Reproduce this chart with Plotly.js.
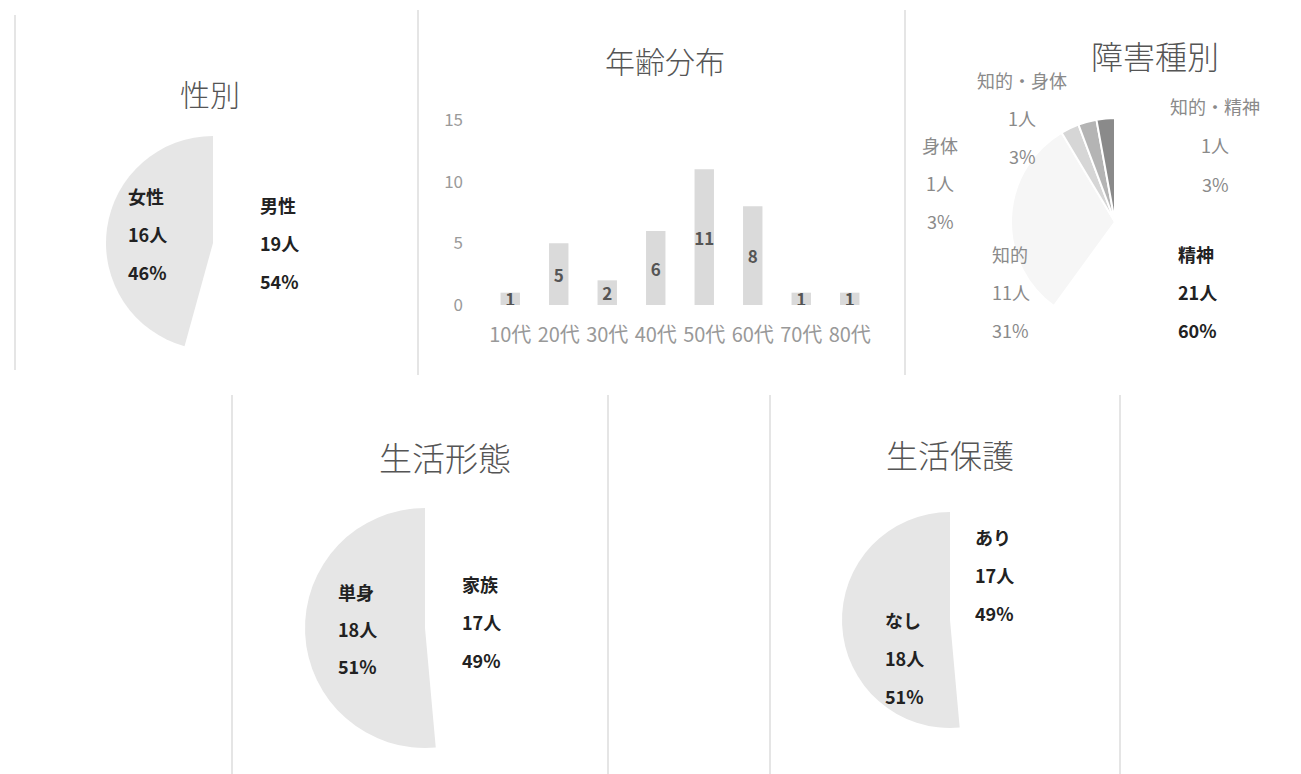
<!DOCTYPE html>
<html>
<head>
<meta charset="utf-8">
<script src="https://cdn.plot.ly/plotly-3.0.1.min.js"></script>
<style>html,body{margin:0;padding:0;background:#fff;}#chart{width:1301px;height:774px;}</style>
</head>
<body>
<div id="chart"></div>
<script>
// ---- data ----
const genderLabels = ['男性', '女性'];
const genderValues = [19, 16];

const ageCategories = ['10代', '20代', '30代', '40代', '50代', '60代', '70代', '80代'];
const ageValues = [1, 5, 2, 6, 11, 8, 1, 1];
const ageTicks = [0, 5, 10, 15];

const disabilityLabels = ['精神', '知的', '身体', '知的・身体', '知的・精神'];
const disabilityValues = [21, 11, 1, 1, 1];

const livingLabels = ['家族', '単身'];
const livingValues = [17, 18];

const welfareLabels = ['あり', 'なし'];
const welfareValues = [17, 18];

const titles = ['性別', '年齢分布', '障害種別', '生活形態', '生活保護'];

// ---- layout helpers ----
const W = 1301, H = 774;
const px = x => x / W;
const py = y => 1 - y / H;
const FONT = '"Noto Sans CJK JP", "Noto Sans", sans-serif';

function pieDomain(cx, cy, r) {
  return {x: [px(cx - r), px(cx + r)], y: [py(cy + r), py(cy - r)]};
}

function pieTrace(labels, values, colors, cx, cy, r, lineColor, lineWidth) {
  return {
    type: 'pie', labels: labels, values: values, sort: false,
    direction: 'clockwise', rotation: 0, textinfo: 'none',
    hoverinfo: 'label+value+percent', showlegend: false,
    marker: {colors: colors, line: {color: lineColor || '#ffffff', width: lineWidth || 0}},
    domain: pieDomain(cx, cy, r)
  };
}

// label block placement (pixels): [x, firstLineY, anchor, style]
const GAP = 38;
function labelBlock(labels, values, placements, annots) {
  const total = values.reduce((a, b) => a + b, 0);
  labels.forEach((lab, i) => {
    const p = placements[i];
    const lines = [lab, values[i] + '人', Math.round(values[i] / total * 100) + '%'];
    lines.forEach((t, k) => {
      annots.push({
        xref: 'paper', yref: 'paper', x: px(p.x), y: py(p.y + k * (p.gap || GAP)),
        xanchor: p.anchor || 'left', yanchor: 'middle', showarrow: false, text: t,
        font: {family: FONT, size: 18, color: p.bold ? '#222' : '#8a8a8a', weight: p.bold ? 700 : 400}
      });
    });
  });
}

const annotations = [];
labelBlock(genderLabels, genderValues, [
  {x: 258, y: 205, bold: true},
  {x: 126, y: 196, bold: true}
], annotations);
labelBlock(disabilityLabels, disabilityValues, [
  {x: 1176, y: 254, bold: true},
  {x: 990, y: 254},
  {x: 940, y: 145, anchor: 'center'},
  {x: 1022, y: 80, anchor: 'center'},
  {x: 1215, y: 106, anchor: 'center', gap: 39}
], annotations);
labelBlock(livingLabels, livingValues, [
  {x: 460, y: 584, bold: true},
  {x: 336, y: 592, bold: true, gap: 37}
], annotations);
labelBlock(welfareLabels, welfareValues, [
  {x: 973, y: 537, bold: true},
  {x: 883, y: 620, bold: true}
], annotations);

const titlePos = [[210, 93, 30], [665, 60, 30], [1155, 55, 32], [445, 457, 33], [950, 454, 32]];
titles.forEach((t, i) => {
  annotations.push({
    xref: 'paper', yref: 'paper', x: px(titlePos[i][0]), y: py(titlePos[i][1]),
    xanchor: 'center', yanchor: 'middle', showarrow: false, text: t,
    font: {family: FONT, size: titlePos[i][2], color: '#555', weight: 300}
  });
});

// faint panel borders from the scanned page
const borderLines = [
  [15, 15, 370], [418, 10, 375], [905, 10, 375],
  [232, 395, 774], [608, 395, 774], [770, 395, 774], [1120, 395, 774]
];
const shapes = borderLines.map(b => ({
  type: 'line', xref: 'paper', yref: 'paper',
  x0: px(b[0]), x1: px(b[0]), y0: py(b[1]), y1: py(b[2]),
  line: {color: '#dcdcdc', width: 1.5}
}));

const traces = [
  pieTrace(genderLabels, genderValues, ['#ffffff', '#e6e6e6'], 213, 243, 107),
  {
    type: 'bar', x: ageCategories, y: ageValues, text: ageValues.map(String),
    textposition: 'inside', insidetextanchor: 'middle', constraintext: 'none', textangle: 0,
    textfont: {family: FONT, size: 17, color: '#555', weight: 700},
    marker: {color: '#dadada'}, width: 0.4, showlegend: false,
    xaxis: 'x', yaxis: 'y', hoverinfo: 'x+y'
  },
  pieTrace(disabilityLabels, disabilityValues, ['#ffffff', '#f6f6f6', '#d6d6d6', '#b4b4b4', '#8a8a8a'], 1115, 222, 104, '#ffffff', 2),
  pieTrace(livingLabels, livingValues, ['#ffffff', '#e6e6e6'], 425, 628, 120),
  pieTrace(welfareLabels, welfareValues, ['#ffffff', '#e6e6e6'], 950, 620, 108)
];

const layout = {
  width: W, height: H, margin: {l: 0, r: 0, t: 0, b: 0},
  paper_bgcolor: '#ffffff', plot_bgcolor: 'rgba(0,0,0,0)',
  font: {family: FONT},
  xaxis: {
    domain: [px(486), px(874)], anchor: 'y', type: 'category',
    showgrid: false, zeroline: false, showline: false, ticks: '',
    ticklabelstandoff: 16,
    tickfont: {family: FONT, size: 20, color: '#999'}
  },
  yaxis: {
    domain: [py(305), py(120)], anchor: 'x', range: [0, 15],
    tickvals: ageTicks, showgrid: false, zeroline: false, showline: false, ticks: '',
    ticklabelstandoff: 22,
    tickfont: {family: FONT, size: 17, color: '#9a9a9a'}
  },
  annotations: annotations,
  shapes: shapes
};

Plotly.newPlot('chart', traces, layout, {displayModeBar: false, staticPlot: true});
</script>
</body>
</html>
